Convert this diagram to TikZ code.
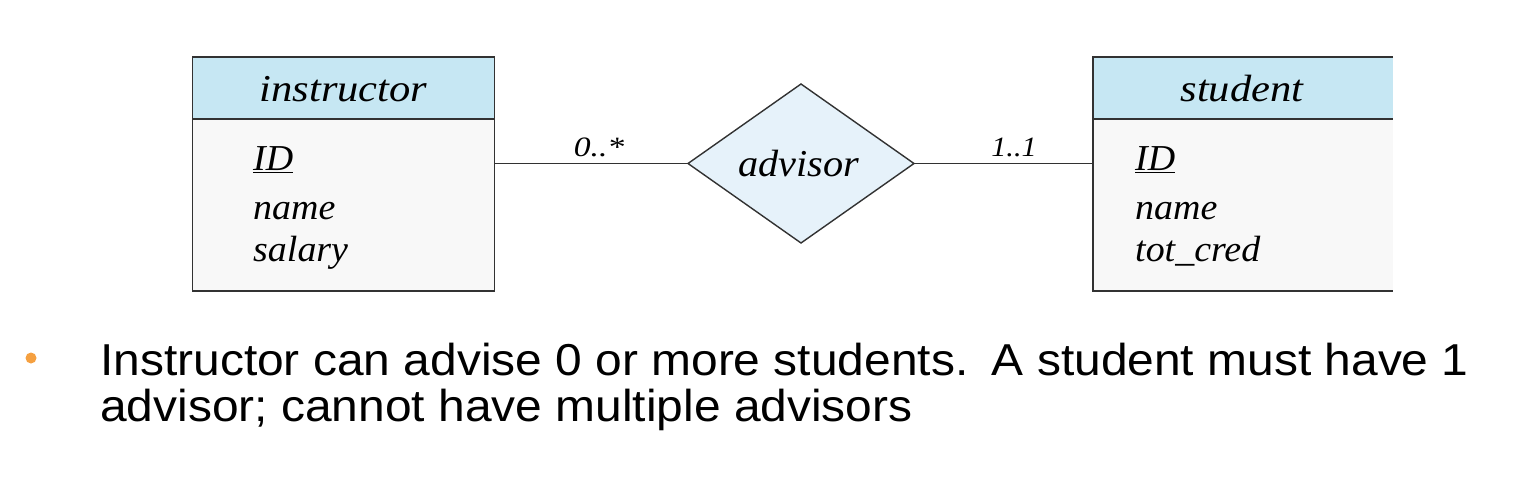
\documentclass[tikz,border=0pt]{standalone}
\usepackage{fontspec}
\setmainfont{Liberation Serif}
\newfontfamily\bodysans{Liberation Sans}
\usetikzlibrary{shapes.geometric}
\definecolor{headblue}{RGB}{198,231,243}
\definecolor{diafill}{RGB}{230,242,250}
\definecolor{bodyfill}{RGB}{248,248,248}
\definecolor{linegray}{RGB}{50,50,50}
\definecolor{bulletorange}{RGB}{245,160,64}
\newcommand{\wide}[2][1.07]{\scalebox{#1}[1]{#2}}
\tikzset{
  ent/.style={inner sep=0pt, outer sep=0pt, minimum width=302pt},
  headbox/.style={ent, fill=headblue, minimum height=62pt},
  bodybox/.style={ent, fill=bodyfill, minimum height=172pt},
  edge/.style={draw=linegray, line width=1.4pt},
  attr/.style={anchor=base west, inner sep=0pt, font=\fontsize{36.5}{40}\selectfont\itshape},
  title/.style={anchor=base, inner sep=0pt, font=\fontsize{38}{40}\selectfont\itshape},
  card/.style={anchor=base, inner sep=0pt, font=\fontsize{28}{30}\selectfont\itshape},
  rel/.style={diamond, aspect=1.42, minimum width=226pt, minimum height=159pt, inner sep=0pt, outer sep=0pt, fill=diafill, draw=linegray, line width=1.4pt},
  prose/.style={anchor=base west, inner sep=0pt, font=\bodysans\fontsize{44.7}{46}\selectfont},
}
\begin{document}
\begin{tikzpicture}[x=1pt,y=-1pt]
\useasboundingbox (0,0) rectangle (1537,478);
% instructor entity
\node[headbox] (ihead) at (343.5,88) {};
\node[bodybox] (ibody) at (343.5,205) {};
\draw[edge] (ihead.north west) rectangle (ibody.south east);
\draw[edge] (ihead.south west) -- (ihead.south east);
\node[title] (ititle) at (343.5,102) {\wide[1.12]{instructor}};
\node[attr] (iid) at (253,171) {\wide[1.04]{\underline{ID}}};
\node[attr] (iname) at (253,220) {\wide[1.04]{name}};
\node[attr] (isal) at (253,262) {\wide[1.04]{salary}};
% student entity
\node[headbox, minimum width=300pt] (shead) at (1243,88) {};
\node[bodybox, minimum width=300pt] (sbody) at (1243,205) {};
\draw[edge] (shead.north east) -- (shead.north west) -- (sbody.south west) -- (sbody.south east);
\draw[edge] (shead.south west) -- (shead.south east);
\node[title] (stitle) at (1242,102) {\wide[1.12]{student}};
\node[attr] (sid) at (1135,171) {\wide[1.04]{\underline{ID}}};
\node[attr] (sname) at (1135,220) {\wide[1.04]{name}};
\node[attr] (scred) at (1135,262) {\wide[1.04]{tot\_cred}};
% relationship
\node[rel] (adv) at (801,163.5) {};
\node[title] (advt) at (799,177) {\wide[1.06]{advisor}};
\draw[edge] (adv.west) -- (adv.west -| ibody.east);
\draw[edge] (adv.east) -- (adv.east -| sbody.west);
\node[card] (c1) at (599,157) {\wide[1.2]{0..*}};
\node[card] (c2) at (1014,157) {\wide[1.08]{1..1}};
% bullet text
\node[circle, fill=bulletorange, inner sep=0pt, minimum size=11pt] (dot) at (31,358) {};
\node[prose] (l1) at (100,375) {\wide[1.072]{Instructor can advise 0 or more students.\hspace{0.12em} A student must have 1}};
\node[prose] (l2) at (100,421) {\wide[1.072]{advisor; cannot have multiple advisors}};
\end{tikzpicture}
\end{document}
